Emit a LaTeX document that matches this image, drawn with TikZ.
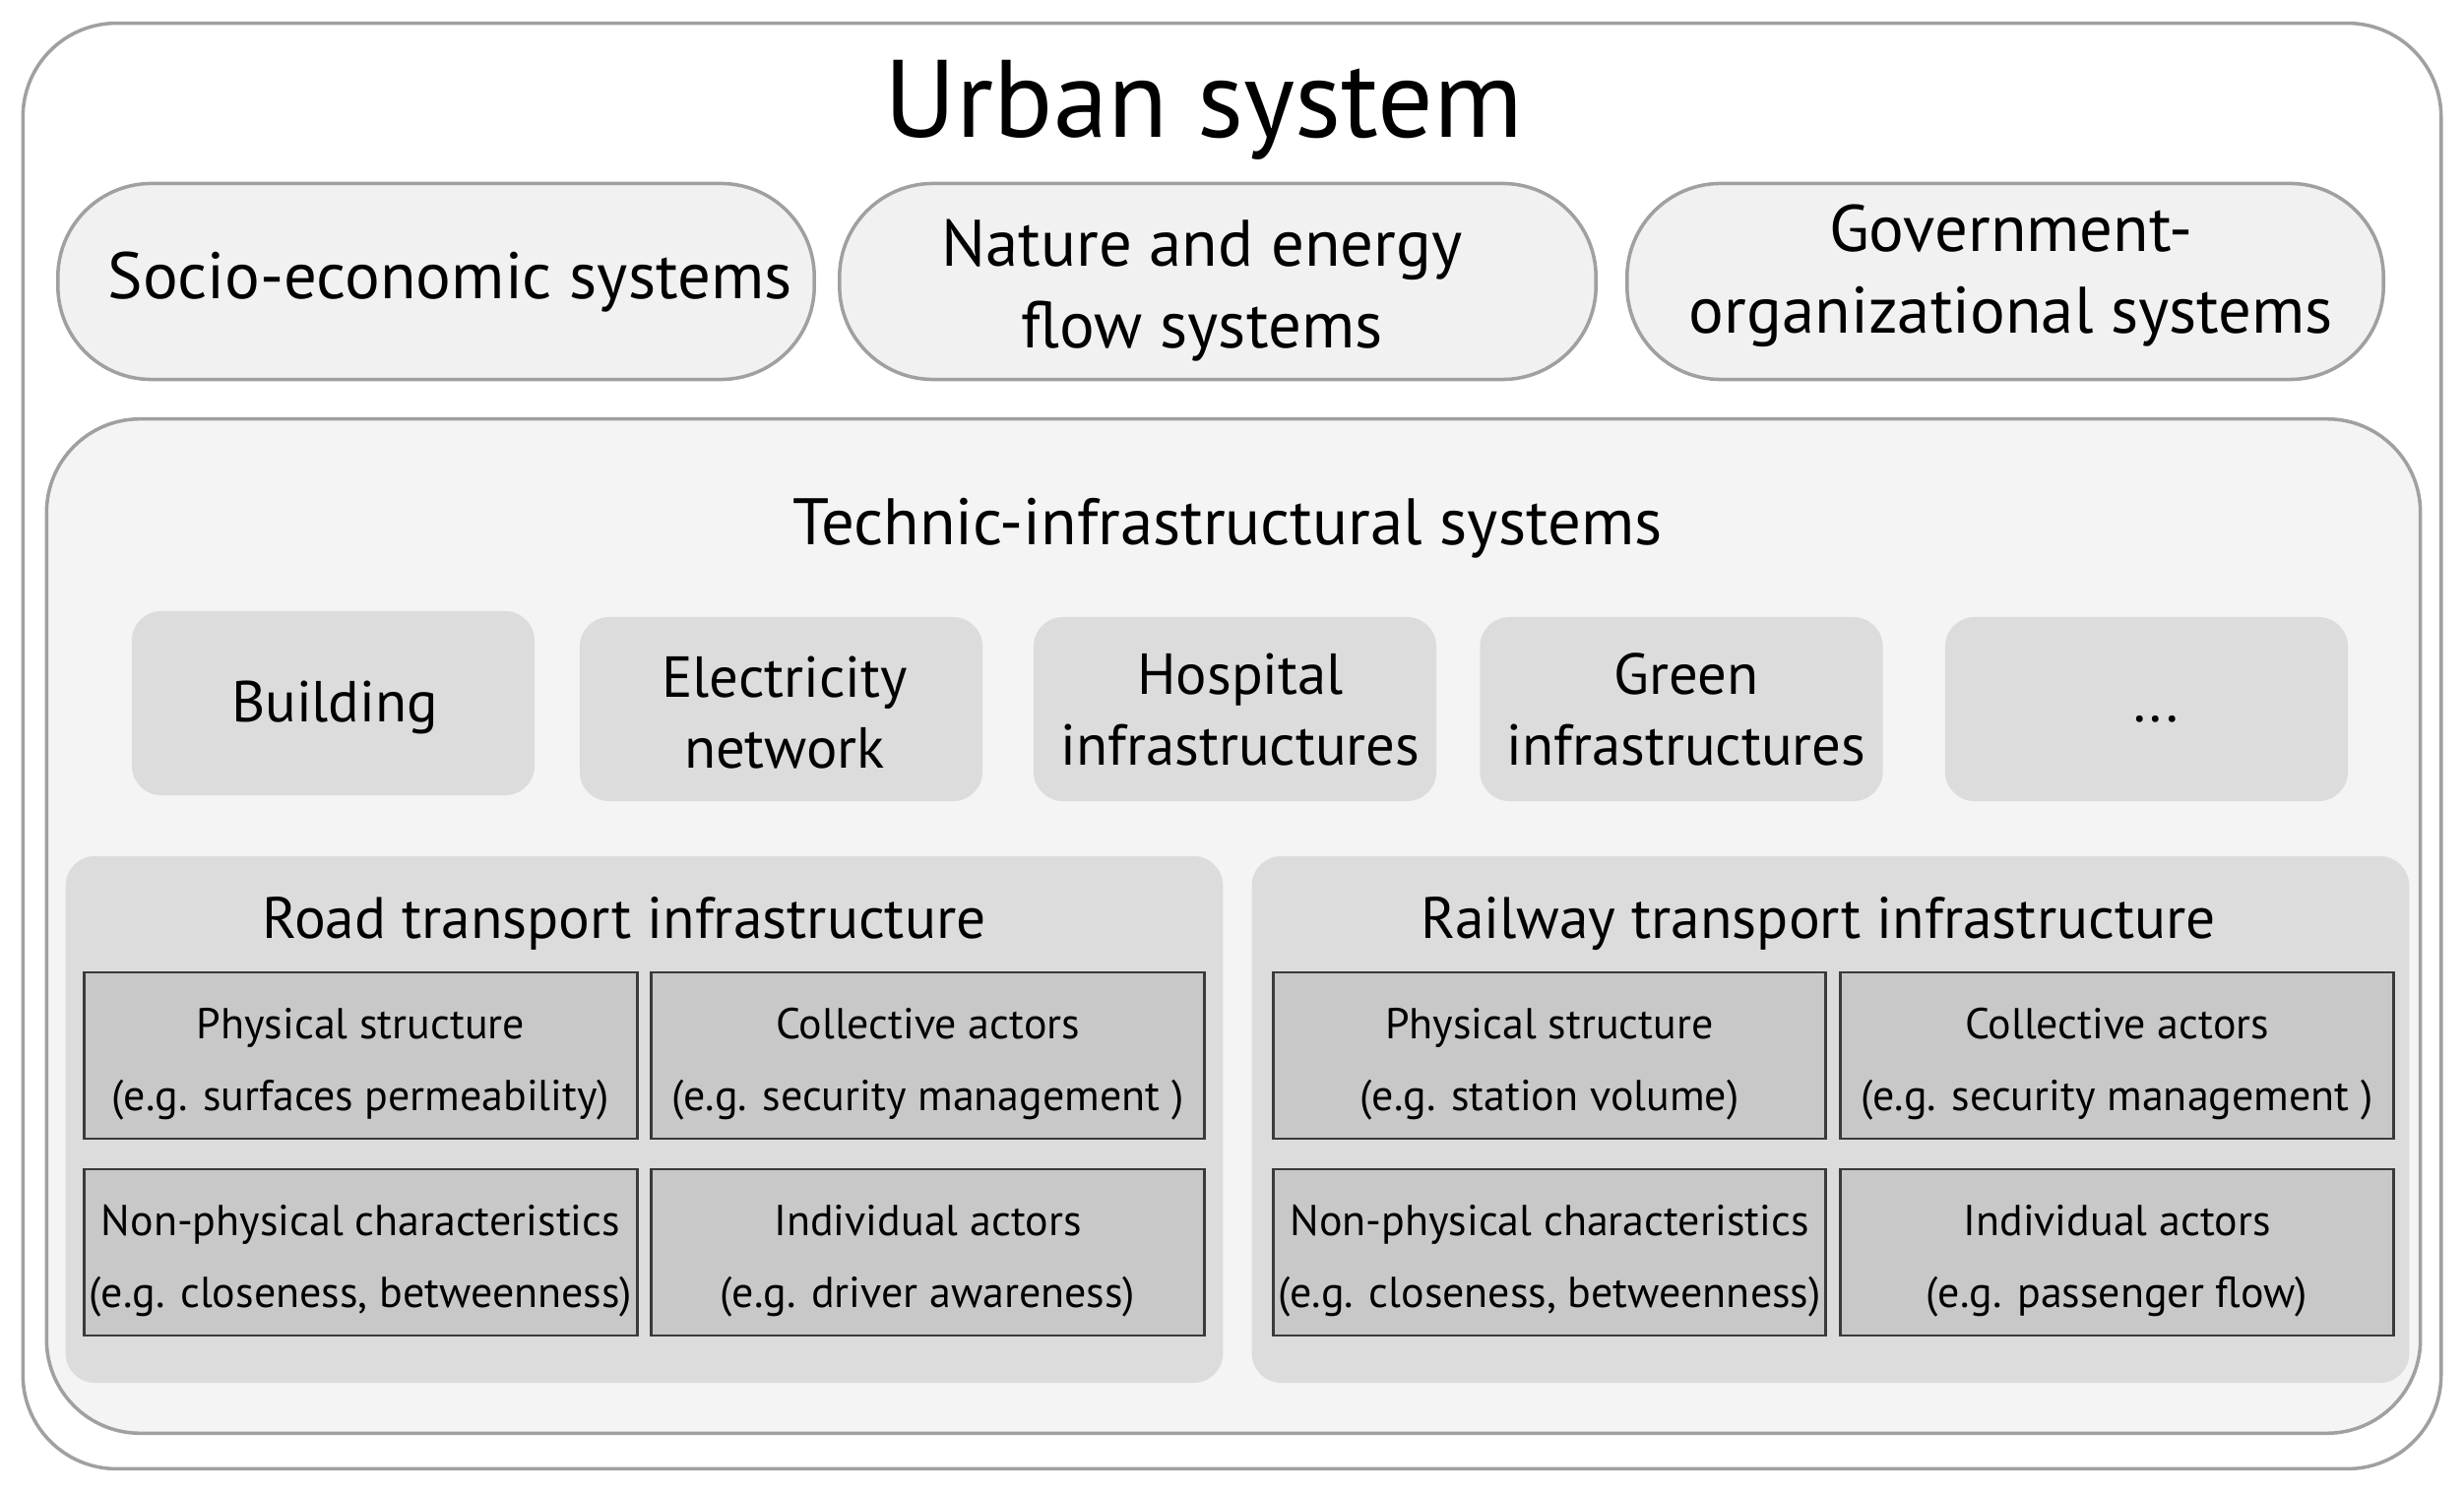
\documentclass[tikz,border=0pt]{standalone}
\usepackage{fontspec}
\setmainfont{PT Sans}
\definecolor{outerline}{HTML}{A0A0A0}
\definecolor{pillfill}{HTML}{F1F1F1}
\definecolor{techfill}{HTML}{F4F4F4}
\definecolor{subfill}{HTML}{DCDCDC}
\definecolor{cellfill}{HTML}{C8C8C8}
\definecolor{cellline}{HTML}{3A3A3A}
\begin{document}
\begin{tikzpicture}[x=0.01cm,y=-0.01cm,
  outerbox/.style={draw=outerline, line width=1pt, fill=white, rounded corners=0.95cm,
    minimum width=24.55cm, minimum height=14.68cm, inner sep=0pt},
  pill/.style={draw=outerline, line width=1pt, fill=pillfill, rounded corners=0.95cm,
    minimum width=7.68cm, minimum height=1.99cm, inner sep=0pt},
  techbox/.style={draw=outerline, line width=1pt, fill=techfill, rounded corners=0.95cm,
    minimum width=24.10cm, minimum height=10.30cm, inner sep=0pt},
  subbox/.style={fill=subfill, rounded corners=0.3cm,
    minimum width=4.09cm, minimum height=1.87cm, inner sep=0pt},
  panel/.style={fill=subfill, rounded corners=0.3cm,
    minimum width=11.75cm, minimum height=5.35cm, inner sep=0pt},
  cell/.style={draw=cellline, line width=0.8pt, fill=cellfill,
    minimum width=5.61cm, minimum height=1.69cm, inner sep=0pt},
  celltext/.style={inner sep=0pt, align=center, yshift=-0.09cm,
    font=\fontsize{12.5}{20.8}\selectfont},
  bigtitle/.style={anchor=base, inner sep=0pt, font=\fontsize{31.8}{38}\selectfont},
  pilltext/.style={inner sep=0pt, align=center, font=\fontsize{19}{23.6}\selectfont},
  midtext/.style={inner sep=0pt, align=center, font=\fontsize{16.9}{12.8}\selectfont},
  techtitle/.style={inner sep=0pt, align=center, font=\fontsize{19}{12.8}\selectfont},
  subtext/.style={inner sep=0pt, align=center, font=\fontsize{16.7}{20.5}\selectfont}
]
\useasboundingbox (0,0) rectangle (2503,1516);

\node[outerbox] (urban) at (1251.5,758) {};
\node[bigtitle] (urbant) at (1223,140) {Urban system};

\node[pill] (socio) at (443,286) {};
\node[pill] (nature) at (1237,286) {};
\node[pill] (gov) at (2037,286) {};
\node[pilltext, anchor=base] (sociot) at (457,304) {Socio-economic systems};
\node[pilltext] (naturet) at (1221,295) {Nature and energy\\flow systems};
\node[pilltext] (govt) at (2043,280) {Government-\\organizational systems};

\node[techbox] (tech) at (1253,941) {};
\node[techtitle, anchor=base] (techt) at (1247,554) {Technic-infrastructural systems};

\node[subbox] (building) at (338.5,714.5) {};
\node[subbox] (elec) at (793.5,720.5) {};
\node[subbox] (hosp) at (1254.5,720.5) {};
\node[subbox] (green) at (1708,720.5) {};
\node[subbox] (more) at (2180.5,720.5) {};
\node[subtext, anchor=base] (buildingt) at (340,734) {Building};
\node[subtext] (elect) at (797,724) {Electricity\\network};
\node[subtext] (hospt) at (1260,721) {Hospital\\infrastructures};
\node[subtext] (greent) at (1713,721) {Green\\infrastructures};
\node[subtext, anchor=base] (moret) at (2190,734) {...};

\node[panel] (road) at (654.5,1137.5) {};
\node[panel] (rail) at (1859.5,1137.5) {};
\node[midtext, anchor=base] (roadt) at (634,953) {Road transport infrastructure};
\node[midtext, anchor=base] (railt) at (1847,953) {Railway transport infrastructure};

\node[cell] (r1) at (366.5,1072.5) {};
\node[cell] (r2) at (942.5,1072.5) {};
\node[cell] (r3) at (366.5,1272.5) {};
\node[cell] (r4) at (942.5,1272.5) {};
\node[celltext] (r1t) at (r1.center) {Physical structure\\(e.g. surfaces permeability)};
\node[celltext] (r2t) at (r2.center) {Collective actors\\(e.g. security management )};
\node[celltext] (r3t) at (r3.center) {Non-physical characteristics\\(e.g. closeness, betweenness)};
\node[celltext] (r4t) at (r4.center) {Individual actors\\(e.g. driver awareness)};

\node[cell] (w1) at (1574,1072.5) {};
\node[cell] (w2) at (2150.5,1072.5) {};
\node[cell] (w3) at (1574,1272.5) {};
\node[cell] (w4) at (2150.5,1272.5) {};
\node[celltext] (w1t) at (w1.center) {Physical structure\\(e.g. station volume)};
\node[celltext] (w2t) at (w2.center) {Collective actors\\(e.g. security management )};
\node[celltext] (w3t) at (w3.center) {Non-physical characteristics\\(e.g. closeness, betweenness)};
\node[celltext] (w4t) at (w4.center) {Individual actors\\(e.g. passenger flow)};
\end{tikzpicture}
\end{document}
